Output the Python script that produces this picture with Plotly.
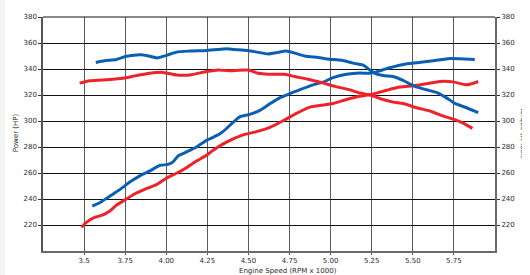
import plotly.graph_objects as go

# Engine speed (RPM x 1000) and values
blue_power_rpm = [3.55, 3.595, 3.656, 3.717, 3.778, 3.839, 3.90, 3.96, 4.01, 4.041, 4.072, 4.123, 4.184, 4.25,
                  4.315, 4.346, 4.406, 4.447, 4.508, 4.569, 4.63, 4.69, 4.751, 4.812, 4.893, 4.954, 5.015,
                  5.097, 5.178, 5.239, 5.30, 5.36, 5.441, 5.523, 5.624, 5.725, 5.786, 5.877]
blue_power_hp = [234.6, 237.1, 242.2, 247.2, 253.0, 257.8, 261.6, 265.8, 266.6, 268.6, 273.2, 276.2, 280.0, 285.5,
                 289.3, 292.0, 298.9, 303.2, 305.1, 308.2, 313.2, 317.8, 321.0, 324.0, 327.8, 329.9, 333.4,
                 335.9, 336.9, 336.7, 338.7, 341.0, 343.5, 344.8, 346.3, 348.0, 347.8, 347.3]

blue_torque_rpm = [3.571, 3.625, 3.697, 3.758, 3.849, 3.90, 3.944, 4.001, 4.062, 4.143, 4.245, 4.315, 4.366,
                   4.437, 4.498, 4.559, 4.62, 4.68, 4.73, 4.78, 4.843, 4.924, 4.995, 5.066, 5.137, 5.198,
                   5.239, 5.269, 5.319, 5.38, 5.441, 5.512, 5.583, 5.654, 5.705, 5.756, 5.827, 5.898]
blue_torque_lbft = [345.0, 346.3, 347.3, 349.8, 351.0, 349.8, 348.5, 350.5, 353.0, 353.8, 354.3, 355.0, 355.6,
                    354.8, 354.3, 352.8, 351.6, 352.8, 353.8, 352.3, 350.0, 348.8, 347.5, 346.7, 344.5, 343.0,
                    339.2, 336.7, 335.0, 334.2, 331.2, 326.6, 324.0, 321.5, 317.8, 313.5, 310.2, 306.4]

red_power_rpm = [3.484, 3.514, 3.554, 3.615, 3.656, 3.697, 3.758, 3.818, 3.879, 3.94, 4.001, 4.062, 4.123,
                 4.184, 4.245, 4.285, 4.366, 4.467, 4.549, 4.63, 4.711, 4.792, 4.873, 4.954, 5.015, 5.097,
                 5.173, 5.259, 5.34, 5.421, 5.502, 5.583, 5.664, 5.745, 5.827, 5.898]
red_power_hp = [218.2, 222.0, 225.3, 227.8, 230.8, 235.3, 240.1, 244.6, 248.0, 251.0, 256.0, 259.8, 264.1,
                269.2, 273.7, 277.5, 283.7, 289.3, 291.8, 295.1, 300.2, 305.9, 310.7, 312.3, 313.5, 316.5,
                319.0, 320.8, 323.6, 326.1, 327.1, 328.6, 330.4, 330.1, 327.8, 330.4]

red_torque_rpm = [3.473, 3.534, 3.615, 3.737, 3.818, 3.899, 3.98, 4.062, 4.143, 4.245, 4.315, 4.376, 4.498,
                  4.559, 4.62, 4.721, 4.782, 4.863, 4.944, 5.025, 5.106, 5.178, 5.239, 5.319, 5.38, 5.441,
                  5.523, 5.604, 5.684, 5.745, 5.797, 5.863]
red_torque_lbft = [329.1, 330.9, 331.5, 332.9, 334.9, 336.7, 337.4, 335.4, 335.4, 338.0, 339.2, 338.7, 339.2,
                   336.7, 335.9, 335.9, 334.2, 332.1, 329.6, 326.6, 324.3, 321.5, 320.0, 316.5, 314.5, 313.5,
                   310.2, 307.7, 303.9, 301.4, 298.9, 294.3]

x_tickvals = [3.5, 3.75, 4.0, 4.25, 4.5, 4.75, 5.0, 5.25, 5.5, 5.75]
x_ticktext = ["3.5", "3.75", "4.00", "4.25", "4.50", "4.75", "5.00", "5.25", "5.50", "5.75"]
y_tickvals = [220, 240, 260, 280, 300, 320, 340, 360, 380]

BLUE = "#0a5fb2"
RED = "#ee2229"
FONT = dict(family="DejaVu Sans", size=7, color="#2a2a2a")

fig = go.Figure()
line_kw = dict(width=3, shape="spline", smoothing=0.6)
fig.add_trace(go.Scatter(x=blue_power_rpm, y=blue_power_hp, mode="lines",
                         line=dict(color=BLUE, **line_kw), yaxis="y"))
fig.add_trace(go.Scatter(x=blue_torque_rpm, y=blue_torque_lbft, mode="lines",
                         line=dict(color=BLUE, **line_kw), yaxis="y2"))
fig.add_trace(go.Scatter(x=red_power_rpm, y=red_power_hp, mode="lines",
                         line=dict(color=RED, **line_kw), yaxis="y"))
fig.add_trace(go.Scatter(x=red_torque_rpm, y=red_torque_lbft, mode="lines",
                         line=dict(color=RED, **line_kw), yaxis="y2"))

# The page body has an 8px margin, so the figure is sized to fill the rest of the 530x275 window.
fig.update_layout(
    width=522, height=267,
    margin=dict(l=35, r=35, t=5, b=24),
    paper_bgcolor="white", plot_bgcolor="white",
    showlegend=False,
    font=FONT,
    xaxis=dict(range=[3.25, 6.0], tickvals=x_tickvals, ticktext=x_ticktext,
               showgrid=True, gridcolor="#5a5a5a", gridwidth=1.4,
               showline=True, linecolor="#6a6a6a", linewidth=2,
               ticks="outside", ticklen=2, tickcolor="#555", tickfont=FONT,
               zeroline=False, fixedrange=True),
    yaxis=dict(range=[200, 380], tickvals=y_tickvals,
               showgrid=True, gridcolor="#111", gridwidth=1,
               showline=True, linecolor="#555", linewidth=1.5,
               ticks="outside", ticklen=3, tickcolor="#333", tickfont=FONT,
               zeroline=False),
    yaxis2=dict(range=[200, 380], tickvals=y_tickvals, overlaying="y", side="right",
                showgrid=False, showline=True, linecolor="#6a6a6a", linewidth=2,
                ticks="outside", ticklen=3, tickcolor="#333", tickfont=FONT,
                zeroline=False),
    shapes=[
        dict(type="line", xref="paper", yref="paper", x0=0, x1=1, y0=1, y1=1,
             line=dict(color="#111", width=1)),
    ],
    annotations=[
        dict(text="Engine Speed (RPM x 1000)", xref="paper", yref="paper", x=0.542, y=-0.084,
             xanchor="center", yanchor="middle", showarrow=False, font=FONT),
        dict(text="Power (HP)", xref="paper", yref="paper", x=-0.058, y=0.507,
             xanchor="center", yanchor="middle", showarrow=False, textangle=-90, font=FONT),
        dict(text="Torque (ft-lbs.)", xref="paper", yref="paper", x=1.062, y=0.507,
             xanchor="center", yanchor="middle", showarrow=False, textangle=90, font=FONT),
    ],
)

post = ("document.body.style.background='linear-gradient(to right, #f4f4f4 5px, #ffffff 5px)';"
        "document.body.style.overflow='hidden';")
fig.write_html("out.html", config={"displayModeBar": False}, post_script=post)
